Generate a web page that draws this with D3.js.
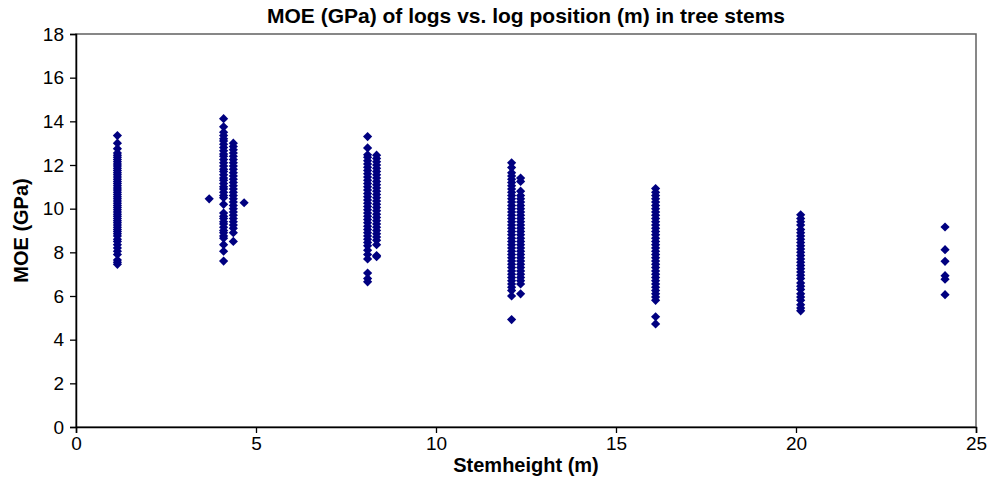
<!DOCTYPE html>
<html>
<head>
<meta charset="utf-8">
<script src="https://cdn.jsdelivr.net/npm/d3@7"></script>
<style>
  body { margin: 0; background: #fff; }
  text { font-family: "Liberation Sans", Arial, sans-serif; }
</style>
</head>
<body>
<div id="chart"></div>
<script>
// log positions (m) and MOE readings (GPa) per column of points
const colA = [13.35, 13.0, 12.75, 12.55, 12.45, 12.35, 12.25, 12.15, 12.05, 11.95, 11.85, 11.75, 11.65, 11.55, 11.45,
  11.35, 11.25, 11.15, 11.05, 10.95, 10.85, 10.75, 10.65, 10.55, 10.45, 10.35, 10.25, 10.15, 10.05, 9.95,
  9.85, 9.75, 9.65, 9.55, 9.45, 9.35, 9.25, 9.15, 9.05, 8.95, 8.85, 8.75, 8.6, 8.5, 8.35, 8.2, 8.05, 7.9,
  7.65, 7.55, 7.45];
const colB1 = [14.12, 13.75, 13.5, 13.35, 13.2, 13.1, 12.95, 12.8, 12.65, 12.5, 12.4, 12.25, 12.1, 11.95, 11.8,
  11.7, 11.55, 11.4, 11.3, 11.15, 11.0, 10.9, 10.75, 10.6, 10.5, 10.2, 9.8, 9.65, 9.55, 9.4, 9.3, 9.15, 9.0,
  8.9, 8.75, 8.65, 8.35, 8.05, 7.6];
const colB2 = [13.0, 12.85, 12.7, 12.55, 12.4, 12.25, 12.1, 11.95, 11.8, 11.65, 11.5, 11.35, 11.2, 11.05, 10.9,
  10.75, 10.6, 10.45, 10.3, 10.15, 10.0, 9.85, 9.7, 9.55, 9.4, 9.25, 9.1, 8.9, 8.5];
const outB = [[3.7, 10.45], [4.67, 10.27]];
const colC1 = [13.3, 12.78, 12.47, 12.35, 12.2, 12.05, 11.9, 11.75, 11.6, 11.45, 11.3, 11.15, 11.0, 10.85, 10.7,
  10.55, 10.4, 10.25, 10.1, 9.95, 9.8, 9.65, 9.5, 9.35, 9.2, 9.05, 8.9, 8.75, 8.6, 8.45, 8.3, 8.1, 7.9,
  7.7, 7.05, 6.8, 6.65];
const colC2 = [12.45, 12.3, 12.15, 12.0, 11.85, 11.7, 11.55, 11.4, 11.25, 11.1, 10.95, 10.8, 10.65, 10.5, 10.35,
  10.2, 10.05, 9.9, 9.75, 9.6, 9.45, 9.3, 9.15, 9.0, 8.85, 8.7, 8.55, 8.35, 7.85, 7.8];
const colD1 = [12.1, 11.88, 11.65, 11.5, 11.35, 11.2, 11.05, 10.9, 10.75, 10.6, 10.45, 10.3, 10.15, 10.0, 9.85,
  9.7, 9.55, 9.4, 9.25, 9.1, 8.95, 8.8, 8.65, 8.5, 8.35, 8.2, 8.05, 7.9, 7.75, 7.6, 7.45, 7.3, 7.15, 7.0,
  6.85, 6.7, 6.55, 6.4, 6.25, 6.0, 4.92];
const colD2 = [11.4, 11.25, 10.8, 10.6, 10.45, 10.3, 10.15, 10.0, 9.85, 9.7, 9.55, 9.4, 9.25, 9.1, 8.95, 8.8,
  8.65, 8.5, 8.35, 8.2, 8.05, 7.9, 7.75, 7.6, 7.45, 7.3, 7.15, 7.0, 6.85, 6.7, 6.55, 6.1];
const colE = [10.92, 10.75, 10.6, 10.45, 10.3, 10.15, 10.0, 9.85, 9.7, 9.55, 9.4, 9.25, 9.1, 8.95, 8.8, 8.65,
  8.5, 8.35, 8.2, 8.05, 7.9, 7.75, 7.6, 7.45, 7.3, 7.15, 7.0, 6.85, 6.7, 6.55, 6.4, 6.25, 6.1, 5.95, 5.8,
  5.05, 4.72];
const colF = [9.72, 9.55, 9.4, 9.25, 9.05, 8.9, 8.75, 8.6, 8.45, 8.3, 8.15, 8.0, 7.85, 7.7, 7.55, 7.4, 7.25,
  7.1, 6.95, 6.8, 6.6, 6.45, 6.3, 6.1, 5.95, 5.8, 5.6, 5.45, 5.32];
const colG = [9.16, 8.12, 7.59, 6.93, 6.77, 6.06];

const columns = [
  [1.15, colA], [4.1, colB1], [4.37, colB2], [8.1, colC1], [8.35, colC2],
  [12.1, colD1], [12.35, colD2], [16.1, colE], [20.13, colF], [24.14, colG]
];

const xTicks = [0, 5, 10, 15, 20, 25];
const yTicks = [0, 2, 4, 6, 8, 10, 12, 14, 16, 18];

// flatten into points
const points = [];
columns.forEach(c => c[1].forEach(v => points.push([c[0], v])));
outB.forEach(p => points.push(p));

const w = 990, h = 485;
const mLeft = 76, mRight = 976, mTop = 34, mBottom = 427;

const xScale = d3.scaleLinear().domain([0, 25]).range([mLeft, mRight]);
const yScale = d3.scaleLinear().domain([0, 18]).range([mBottom, mTop]);

const svg = d3.select('#chart').append('svg')
  .attr('width', w)
  .attr('height', h);

// plot frame
svg.append('rect')
  .attr('x', mLeft).attr('y', mTop)
  .attr('width', mRight - mLeft).attr('height', mBottom - mTop)
  .attr('fill', 'none')
  .attr('stroke', '#606060')
  .attr('stroke-width', 1.5);

svg.selectAll('path.pt')
  .data(points)
  .enter()
  .append('path')
  .attr('class', 'pt')
  .attr('d', 'M0,-4.6L4.6,0L0,4.6L-4.6,0Z')
  .attr('transform', d => 'translate(' + xScale(d[0]) + ',' + yScale(d[1]) + ')')
  .attr('fill', '#000080');

const xAxis = d3.axisBottom(xScale).tickValues(xTicks).tickSize(6).tickPadding(4);
const gx = svg.append('g')
  .attr('transform', 'translate(0,' + mBottom + ')')
  .call(xAxis);

const yAxis = d3.axisLeft(yScale).tickValues(yTicks).tickSize(6).tickPadding(6);
const gy = svg.append('g')
  .attr('transform', 'translate(' + mLeft + ',0)')
  .call(yAxis);

[gx, gy].forEach(g => {
  g.select('.domain').attr('stroke', '#000').attr('stroke-width', 1.5);
  g.selectAll('.tick line').attr('stroke', '#000').attr('stroke-width', 1.3);
  g.selectAll('.tick text')
    .attr('fill', '#000')
    .style('font-family', '"Liberation Sans", Arial, sans-serif')
    .style('font-size', '19px');
});

svg.append('text')
  .attr('x', (mLeft + mRight) / 2)
  .attr('y', 23)
  .attr('text-anchor', 'middle')
  .style('font-size', '21px')
  .style('font-weight', 'bold')
  .text('MOE (GPa) of logs vs. log position (m) in tree stems');

svg.append('text')
  .attr('x', (mLeft + mRight) / 2)
  .attr('y', 472)
  .attr('text-anchor', 'middle')
  .style('font-size', '20px')
  .style('font-weight', 'bold')
  .text('Stemheight (m)');

svg.append('text')
  .attr('transform', 'translate(28,' + ((mTop + mBottom) / 2) + ') rotate(-90)')
  .attr('text-anchor', 'middle')
  .style('font-size', '20px')
  .style('font-weight', 'bold')
  .text('MOE (GPa)');
</script>
</body>
</html>
